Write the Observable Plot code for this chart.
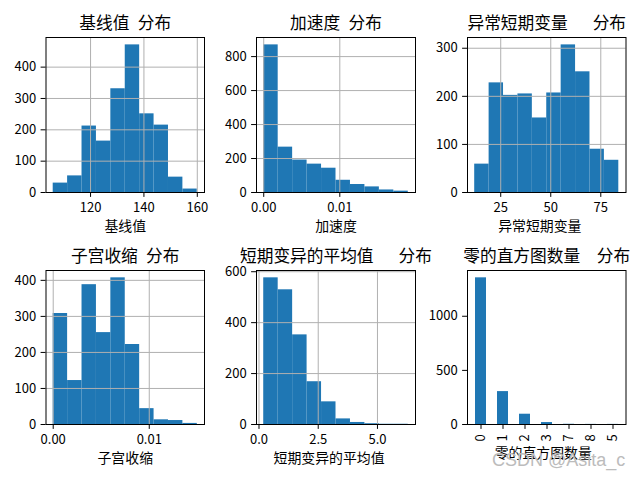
<!DOCTYPE html>
<html><head><meta charset="utf-8">
<script src="https://cdn.jsdelivr.net/npm/d3@7"></script>
<script src="https://cdn.jsdelivr.net/npm/@observablehq/plot@0.6"></script>
<style>
html,body{margin:0;padding:0;background:#fff;}
#wrap{position:relative;width:640px;height:480px;overflow:hidden;background:#fff;}
#wrap svg{position:absolute;left:0;top:0;}
#wrap svg text{white-space:pre;word-spacing:0.276em;}
#wm{position:absolute;left:492px;top:449.7px;font-family:"Liberation Sans",Arial,sans-serif;font-size:18px;color:#bcbcbc;white-space:pre;line-height:normal;}
</style></head><body><div id="wrap"></div>
<script>
// ---- data ----
const names = ["基线值", "加速度", "异常短期变量  ", "子宫收缩", "短期变异的平均值  ", "零的直方图数量 "];
const titleSuffix = " 分布";

const baselineRange = [106, 160];
const baselineCounts = [30, 53, 212, 164, 331, 471, 251, 215, 49, 11];
const baselineTicksX = [120, 140, 160];
const baselineTicksY = [0, 100, 200, 300, 400];

const accelRange = [0, 0.019];
const accelCounts = [869, 267, 191, 167, 143, 72, 47, 33, 15, 8];
const accelTicksX = [0, 0.01];
const accelTicksY = [0, 200, 400, 600, 800];

const astvRange = [12, 84];
const astvCounts = [59, 228, 202, 205, 155, 207, 307, 251, 90, 67];
const astvTicksX = [25, 50, 75];
const astvTicksY = [0, 100, 200, 300];

const uterRange = [0, 0.015];
const uterCounts = [308, 122, 388, 255, 407, 222, 44, 13, 11, 3];
const uterTicksX = [0, 0.01];
const uterTicksY = [0, 100, 200, 300, 400];

const mstvRange = [0.2, 6.3];
const mstvCounts = [576, 529, 352, 168, 89, 22, 8, 3, 1, 1];
const mstvTicksX = [0, 2.5, 5];
const mstvTicksY = [0, 200, 400, 600];

const zeroCats = ["0", "1", "2", "3", "7", "8", "5"];
const zeroCounts = [1355, 304, 95, 18, 2, 1, 1];
const zeroTicksY = [0, 500, 1000];

const watermark = "CSDN @Asita_c";

// ---- drawing ----
const BLUE = "#1f77b4";
const FONT = "'Noto Sans CJK SC', 'Noto Sans', sans-serif";
const wrap = document.getElementById("wrap");
const intFmt = d3.format("d");

function base(frame) {
  const [L, T, R, B] = frame;
  return {
    width: 640, height: 480,
    marginLeft: L, marginRight: 640 - R, marginTop: T, marginBottom: 480 - B,
    style: {background: "transparent", fontFamily: FONT, color: "black", overflow: "visible"}
  };
}
function axisOpts(extra) {
  return Object.assign({tickSize: 4.9, tickPadding: 4.9, fontSize: 13, label: null, strokeWidth: 1}, extra);
}
function labels(name, xlabDy) {
  return [
    Plot.text([name + titleSuffix], {text: d => d, frameAnchor: "top", lineAnchor: "bottom", dy: -8.5, fontSize: 16.7, fill: "black"}),
    Plot.text([name], {text: d => d, frameAnchor: "bottom", lineAnchor: "bottom", dy: xlabDy, fontSize: 13.9, fill: "black"})
  ];
}

function hist(name, range, counts, ticksX, ticksY, fmt, frame) {
  const [lo, hi] = range;
  const w = (hi - lo) / counts.length;
  const rows = counts.map((c, i) => ({x1: lo + i * w, x2: lo + (i + 1) * w, y: c}));
  const pad = 0.05 * (hi - lo);
  const opts = base(frame);
  opts.x = {domain: [lo - pad, hi + pad]};
  opts.y = {domain: [0, d3.max(counts) * 1.05]};
  opts.marks = [
    Plot.rectY(rows, {x1: "x1", x2: "x2", y1: 0, y2: "y", fill: BLUE, inset: 0}),
    Plot.gridX(ticksX, {stroke: "#b0b0b0", strokeOpacity: 1, strokeWidth: 1}),
    Plot.gridY(ticksY, {stroke: "#b0b0b0", strokeOpacity: 1, strokeWidth: 1}),
    Plot.frame({stroke: "black", strokeWidth: 1}),
    Plot.axisX(ticksX, axisOpts({tickFormat: fmt})),
    Plot.axisY(ticksY, axisOpts({tickFormat: intFmt})),
    ...labels(name, 38)
  ];
  wrap.appendChild(Plot.plot(opts));
}

hist(names[0], baselineRange, baselineCounts, baselineTicksX, baselineTicksY, intFmt, [45.5, 37, 204, 192]);
hist(names[1], accelRange, accelCounts, accelTicksX, accelTicksY, d3.format(".2f"), [256, 37, 415, 192]);
hist(names[2], astvRange, astvCounts, astvTicksX, astvTicksY, intFmt, [467, 37, 625.5, 192]);
hist(names[3], uterRange, uterCounts, uterTicksX, uterTicksY, d3.format(".2f"), [45.5, 270, 204, 424]);
hist(names[4], mstvRange, mstvCounts, mstvTicksX, mstvTicksY, d3.format(".1f"), [256, 270, 415, 424]);

// bar chart of value counts
{
  const rows = zeroCats.map((c, i) => ({cat: c, count: zeroCounts[i]}));
  const opts = base([467, 270, 625.5, 424]);
  opts.x = {type: "band", domain: zeroCats, paddingInner: 0.5, paddingOuter: 0.25, align: 0.5};
  opts.y = {domain: [0, d3.max(zeroCounts) * 1.05]};
  opts.marks = [
    Plot.barY(rows, {x: "cat", y: "count", fill: BLUE, inset: 0}),
    Plot.frame({stroke: "black", strokeWidth: 1}),
    Plot.axisX(axisOpts({tickRotate: -90})),
    Plot.axisY(zeroTicksY, axisOpts({tickFormat: intFmt})),
    ...labels(names[5], 33)
  ];
  wrap.appendChild(Plot.plot(opts));
}

const wm = document.createElement("div");
wm.id = "wm";
wm.textContent = watermark;
wrap.appendChild(wm);
</script>
</body></html>
